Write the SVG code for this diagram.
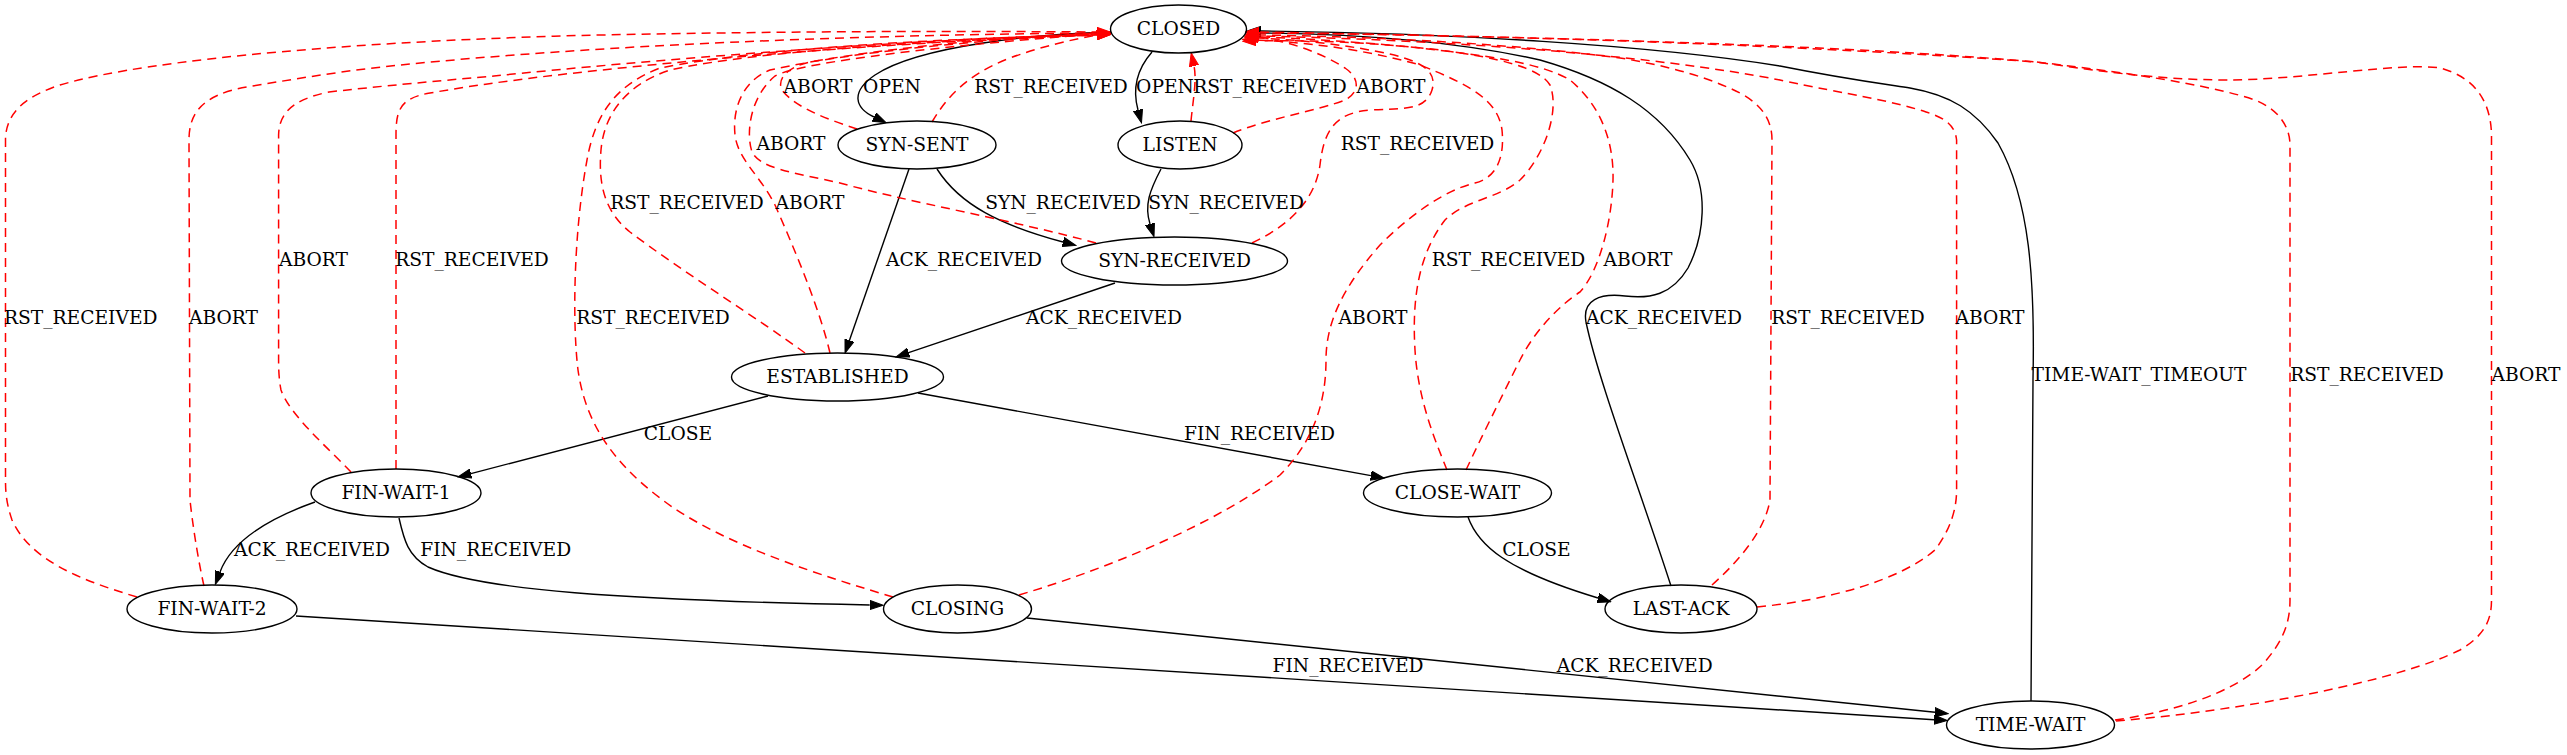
<svg xmlns="http://www.w3.org/2000/svg" width="2567" height="755" viewBox="0 0 2567 755">
<style>
.node ellipse{fill:none;stroke:#000;stroke-width:1.4}
text{font-family:"DejaVu Serif","Liberation Serif",serif;font-size:18.67px;fill:#000;text-anchor:middle}
.e{fill:none;stroke:#000;stroke-width:1.4}
.r{fill:none;stroke:#ff0000;stroke-width:1.5;stroke-dasharray:9,6}
.ab{marker-end:url(#ak)}
.ar{marker-end:url(#ar)}
</style>
<defs>
<marker id="ak" markerUnits="userSpaceOnUse" viewBox="0 0 14 10" refX="0" refY="5" markerWidth="14" markerHeight="10" orient="auto">
<path d="M0,0.33 L13.3,5 L0,9.67 z" fill="#000" stroke="#000" stroke-width="1"/>
</marker>
<marker id="ar" markerUnits="userSpaceOnUse" viewBox="0 0 14 10" refX="0" refY="5" markerWidth="14" markerHeight="10" orient="auto">
<path d="M0,0.33 L13.3,5 L0,9.67 z" fill="#ff0000" stroke="#ff0000" stroke-width="1"/>
</marker>
</defs>
<rect width="2567" height="755" fill="#fff"/>
<g id="edges">
<!-- black edges -->
<path class="e ab" d="M1111,32 C1040,34 920,45 875,75 C850,92 855,108 874,117"/>
<path class="e ab" d="M1152,52 C1138,68 1132,88 1138,110"/>
<path class="e ab" d="M1161,169 C1150,190 1144,205 1150,224"/>
<path class="e ab" d="M937,169 C960,205 1000,225 1063,242"/>
<path class="e ab" d="M909,169 L849.4,340.4"/>
<path class="e ab" d="M1115,283 L908.6,352.7"/>
<path class="e ab" d="M768,396 L470.9,473.6"/>
<path class="e ab" d="M918,393 L1370.9,475.6"/>
<path class="e ab" d="M315,502 C270,518 232,540 220,572"/>
<path class="e ab" d="M399,518 C404,540 408,556 428,567 C480,590 620,600 869.7,605"/>
<path class="e ab" d="M1468,517 C1478,545 1505,570 1598,598"/>
<path class="e ab" d="M296,616 L1934,719.7"/>
<path class="e ab" d="M1027,618 L1935,712.3"/>
<path class="e ab" d="M1671,586 C1640,490 1598,380 1586,322 C1582,300 1600,293 1625,296 C1650,299 1672,295 1688,268 C1705,235 1708,190 1690,160 C1660,110 1610,80 1540,60 C1460,42 1360,34 1261,33"/>
<path class="e ab" d="M2031,701 L2033,380 C2035,280 2030,200 1998,143 C1975,110 1950,95 1910,88 C1870,82 1840,78 1780,66 C1650,45 1450,33 1261,31"/>
<!-- red edges -->
<path class="r ar" d="M932,122 C945,100 965,75 1010,58 C1040,47 1070,40 1097,35"/>
<path class="r ar" d="M857,129 C830,120 795,108 782,90 C776,78 790,66 810,62 C900,46 1000,38 1097,33"/>
<path class="r ar" d="M1191,121 C1193,100 1197,80 1194,66"/>
<path class="r ar" d="M1233,133 C1270,118 1320,110 1345,100 C1360,92 1360,78 1345,68 C1320,52 1290,42 1259,37"/>
<path class="r ar" d="M1096,243 C1020,222 900,200 840,183 C790,172 760,168 752,152 C745,130 752,95 775,76 C800,62 950,45 1097,34"/>
<path class="r ar" d="M1252,243 C1290,225 1315,200 1320,165 C1324,130 1335,113 1370,110 C1400,108 1425,112 1432,90 C1438,70 1420,60 1380,52 C1340,44 1300,40 1258,38"/>
<path class="r ar" d="M805,353 C760,320 680,270 630,232 C605,212 598,185 601,150 C604,115 625,85 670,70 C760,50 950,40 1097,35"/>
<path class="r ar" d="M830,353 C820,310 795,250 775,205 C760,175 738,160 735,135 C732,105 745,80 770,70 C850,52 980,40 1097,34"/>
<path class="r ar" d="M396,469 L396,135 C396,110 400,98 430,93 C470,86 500,82 540,77 C700,58 900,42 1097,35"/>
<path class="r ar" d="M351,472 C325,445 290,415 281,390 C279,380 278.6,370 278.6,360 L278.6,135 C279,115 290,100 329,92 C400,84 450,80 494,76 C650,60 900,40 1097,34"/>
<path class="r ar" d="M137,597 C80,580 30,560 12,520 C7,505 5.5,495 5.5,480 L5.5,140 C5.5,110 30,95 60,85 C150,58 380,40 600,35 C800,31 950,31 1097,32"/>
<path class="r ar" d="M204,586 C198,560 192,520 190,500 L189,140 C189,115 200,95 247,87 C300,78 350,70 400,65 C600,45 850,35 1097,33"/>
<path class="r ar" d="M893,597 C830,578 720,545 660,498 C610,460 585,420 578,370 C572,320 574,230 587,160 C595,115 615,85 660,68 C760,48 950,38 1097,35"/>
<path class="r ar" d="M1019,595 C1120,565 1220,520 1280,475 C1315,440 1326,400 1326,360 C1326,320 1345,285 1380,245 C1410,215 1445,190 1475,183 C1495,178 1505,160 1502,130 C1498,100 1470,85 1420,65 C1360,48 1300,42 1256,40"/>
<path class="r ar" d="M1447,470 C1435,440 1418,400 1415,350 C1412,300 1418,255 1445,220 C1465,200 1500,198 1520,180 C1545,155 1560,110 1550,85 C1540,68 1500,58 1440,50 C1370,42 1310,40 1256,41"/>
<path class="r ar" d="M1466,470 C1480,440 1500,400 1520,360 C1535,330 1560,305 1580,292 C1600,270 1612,220 1613,180 C1614,140 1600,105 1570,80 C1540,62 1480,55 1420,48 C1360,42 1300,38 1258,37"/>
<path class="r ar" d="M1712,585 C1740,560 1765,530 1770,500 L1772,140 C1772,120 1762,105 1740,93 C1710,78 1670,66 1620,58 C1500,42 1350,36 1259,35"/>
<path class="r ar" d="M1757,607 C1830,600 1900,580 1935,550 C1950,530 1956.6,510 1956.6,490 L1956.6,140 C1955,125 1945,118 1926,112 C1890,100 1850,95 1780,80 C1650,55 1450,40 1259,36"/>
<path class="r ar" d="M2115,720 C2170,712 2230,695 2262,665 C2285,640 2290,620 2290,600 L2290,145 C2290,128 2280,110 2255,100 C2220,88 2150,75 2036,62 C1800,45 1500,35 1259,33"/>
<path class="r ar" d="M2116,721 C2250,710 2400,680 2460,650 C2485,635 2491.5,620 2491.5,600 L2491.5,135 C2491,105 2478,78 2440,68 C2400,62 2300,80 2228,80 C2150,80 2080,68 2036,62 C1900,50 1700,40 1259,32"/>
<!-- labels -->
<text x="892" y="92.5">OPEN</text>
<text x="1051" y="92.5">RST_RECEIVED</text>
<text x="1165" y="92.5">OPEN</text>
<text x="1270" y="92.5">RST_RECEIVED</text>
<text x="1391" y="92.5">ABORT</text>
<text x="818" y="92.5">ABORT</text>
<text x="791" y="150">ABORT</text>
<text x="1417.5" y="150">RST_RECEIVED</text>
<text x="1063" y="208.5">SYN_RECEIVED</text>
<text x="1226" y="208.5">SYN_RECEIVED</text>
<text x="687" y="208.5">RST_RECEIVED</text>
<text x="810" y="208.5">ABORT</text>
<text x="964" y="266">ACK_RECEIVED</text>
<text x="313.5" y="266">ABORT</text>
<text x="472" y="266">RST_RECEIVED</text>
<text x="1508.5" y="266">RST_RECEIVED</text>
<text x="1638" y="266">ABORT</text>
<text x="80.7" y="324">RST_RECEIVED</text>
<text x="223.5" y="324">ABORT</text>
<text x="653" y="324">RST_RECEIVED</text>
<text x="1104" y="324">ACK_RECEIVED</text>
<text x="1373" y="324">ABORT</text>
<text x="1664" y="324">ACK_RECEIVED</text>
<text x="1848" y="324">RST_RECEIVED</text>
<text x="1990" y="324">ABORT</text>
<text x="2139" y="381">TIME-WAIT_TIMEOUT</text>
<text x="2367" y="381">RST_RECEIVED</text>
<text x="2526" y="381">ABORT</text>
<text x="678" y="440">CLOSE</text>
<text x="1259.5" y="440">FIN_RECEIVED</text>
<text x="312" y="556">ACK_RECEIVED</text>
<text x="495.7" y="556">FIN_RECEIVED</text>
<text x="1536.5" y="556">CLOSE</text>
<text x="1348" y="672">FIN_RECEIVED</text>
<text x="1634.7" y="672">ACK_RECEIVED</text>
</g>
<g id="CLOSED" class="node"><ellipse cx="1178.5" cy="29" rx="68" ry="24"/><text x="1178.5" y="35">CLOSED</text></g>
<g id="SYN-SENT" class="node"><ellipse cx="917" cy="145" rx="79" ry="24"/><text x="917" y="151">SYN-SENT</text></g>
<g id="LISTEN" class="node"><ellipse cx="1180" cy="145" rx="62" ry="24"/><text x="1180" y="151">LISTEN</text></g>
<g id="SYN-RECEIVED" class="node"><ellipse cx="1174.5" cy="261" rx="113" ry="24"/><text x="1174.5" y="267">SYN-RECEIVED</text></g>
<g id="ESTABLISHED" class="node"><ellipse cx="837.5" cy="377" rx="106" ry="24"/><text x="837.5" y="383">ESTABLISHED</text></g>
<g id="FIN-WAIT-1" class="node"><ellipse cx="396" cy="493" rx="85" ry="24"/><text x="396" y="499">FIN-WAIT-1</text></g>
<g id="CLOSE-WAIT" class="node"><ellipse cx="1457.5" cy="493" rx="94" ry="24"/><text x="1457.5" y="499">CLOSE-WAIT</text></g>
<g id="FIN-WAIT-2" class="node"><ellipse cx="212" cy="609" rx="85" ry="24"/><text x="212" y="615">FIN-WAIT-2</text></g>
<g id="CLOSING" class="node"><ellipse cx="957.5" cy="609" rx="74" ry="24"/><text x="957.5" y="615">CLOSING</text></g>
<g id="LAST-ACK" class="node"><ellipse cx="1681" cy="609" rx="76" ry="24"/><text x="1681" y="615">LAST-ACK</text></g>
<g id="TIME-WAIT" class="node"><ellipse cx="2030.5" cy="725" rx="84" ry="24"/><text x="2030.5" y="731">TIME-WAIT</text></g>
</svg>
